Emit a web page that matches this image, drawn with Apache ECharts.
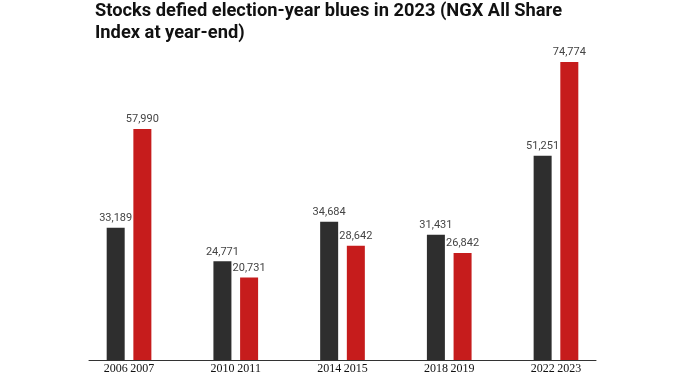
<!DOCTYPE html>
<html>
<head>
    <meta charset="utf-8">
    <title>NGX All Share Index</title>
    <script src="https://cdn.jsdelivr.net/npm/echarts@6/dist/echarts.min.js"></script>
</head>
<body style="margin:0">
    <div id="main" style="width: 700px;height:375px;"></div>
    <script type="text/javascript">
        // 年份与年末指数
        let years = [2006, 2007, 2010, 2011, 2014, 2015, 2018, 2019, 2022, 2023]
        let values = [33189, 57990, 24771, 20731, 34684, 28642, 31431, 26842, 51251, 74774]
        // 选举前一年为深灰，选举年为红色
        let colors = ['#2e2e2e', '#c61c1c']

        let myChart = echarts.init(document.getElementById('main'));

        let option = {
            title: {
                text: 'Stocks defied election-year blues in 2023 (NGX All Share\nIndex at year-end)',
                left: 90,
                top: -5,
                textStyle: {
                    fontFamily: 'Roboto',
                    fontWeight: 'bold',
                    fontSize: 18.3,
                    lineHeight: 22,
                    color: '#111'
                }
            },
            grid: {
                left: 89,
                right: 104,
                top: 62,
                bottom: 13
            },
            xAxis: {
                type: 'value',
                min: 2005,
                max: 2024,
                interval: 1,
                splitLine: { show: false },
                axisTick: { show: false },
                axisLine: { show: true, lineStyle: { color: '#333', width: 1 } },
                axisLabel: {
                    margin: 3,
                    fontFamily: 'Liberation Serif',
                    fontSize: 12,
                    color: '#111',
                    showMinLabel: false,
                    showMaxLabel: false,
                    formatter: function (v) {
                        return years.indexOf(v) >= 0 ? String(v) : ''
                    }
                }
            },
            yAxis: {
                type: 'value',
                min: 0,
                max: 74774,
                show: false
            },
            series: [
                {
                    type: 'bar',
                    barWidth: 18,
                    data: years.map(function (y, i) { return [y, values[i]] }),
                    itemStyle: {
                        color: function (p) { return colors[p.dataIndex % 2] }
                    },
                    label: {
                        show: true,
                        position: 'top',
                        distance: 4,
                        fontFamily: 'Roboto',
                        fontSize: 11,
                        color: '#444',
                        formatter: function (p) { return p.value[1].toLocaleString('en-US') }
                    }
                }
            ]
        };

        myChart.setOption(option);
    </script>
</body>
</html>
